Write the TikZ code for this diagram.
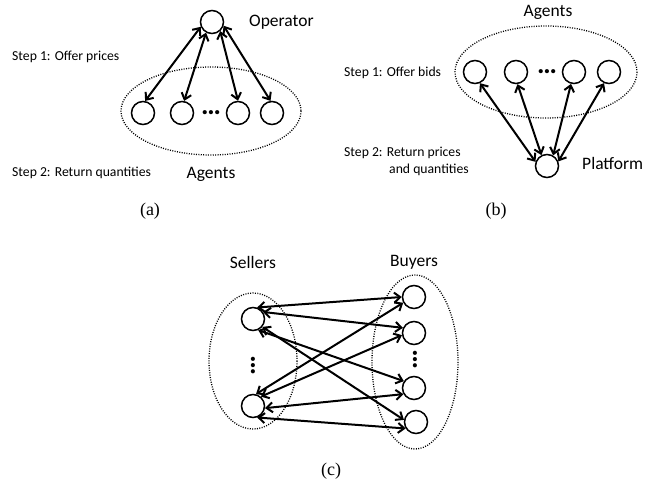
\documentclass[tikz,border=0pt]{standalone}
\usepackage{fontspec}
\setmainfont{Liberation Serif}
\newfontfamily\calib{Carlito}
\usetikzlibrary{arrows.meta}
\begin{document}
\begin{tikzpicture}[x=1pt,y=-1pt,
  agent/.style={circle,draw,line width=1.5pt,minimum size=23pt,inner sep=0pt},
  arr/.style={line width=2pt,{Straight Barb[length=6pt,width=10pt]}-{Straight Barb[length=6pt,width=10pt]}},
  group/.style={line width=1.3pt,dash pattern=on 1pt off 1.4pt},
  big/.style={font=\calib\fontsize{17.5}{20}\selectfont,inner sep=0pt},
  small/.style={font=\calib\fontsize{13.7}{16}\selectfont,inner sep=0pt},
  dots/.style={font=\calib\bfseries\fontsize{28}{30}\selectfont,inner sep=0pt},
  captext/.style={font=\fontsize{18}{20}\selectfont,inner sep=0pt}]
\useasboundingbox (0,0) rectangle (663,489);

% ---------- (a) ----------
\draw[group] (211,111) ellipse [x radius=90, y radius=44];
\node[agent] (op) at (212,22) {};
\node[agent] (a1) at (143,113) {};
\node[agent] (a2) at (182,113) {};
\node[agent] (a3) at (238,113) {};
\node[agent] (a4) at (272,113) {};
\node[dots] (ad) at (211,113) {…};
\draw[arr] (op.203) -- (a1.80);
\draw[arr] (op.241) -- (a2.80);
\draw[arr] (op.312) -- (a3.90);
\draw[arr] (op.342) -- (a4.97);
\node[big,anchor=west] (opl) at (249,22) {Operator};
\node[big] (agl) at (211,174) {Agents};
\node[small,anchor=west] (s1a) at (12,57) {Step 1: Offer prices};
\node[small,anchor=west] (s2a) at (12,173) {Step 2: Return quantities};
\node[captext] (capa) at (150,211) {(a)};

% ---------- (b) ----------
\draw[group] (546,72) ellipse [x radius=91, y radius=46];
\node[agent] (b1) at (475,72) {};
\node[agent] (b2) at (516,72) {};
\node[agent] (b3) at (574,72) {};
\node[agent] (b4) at (609,72) {};
\node[dots] (bd) at (547,72) {…};
\node[agent] (pf) at (547,166) {};
\draw[arr] (pf.160) -- (b1.294);
\draw[arr] (pf.117) -- (b2.277);
\draw[arr] (pf.60) -- (b3.256);
\draw[arr] (pf.22) -- (b4.246);
\node[big] (agb) at (548,12) {Agents};
\node[big,anchor=west] (pfl) at (582,163) {Platform};
\node[small,anchor=west] (s1b) at (344,73) {Step 1: Offer bids};
\node[small,anchor=west] (s2b) at (344,153) {Step 2: Return prices};
\node[small,anchor=west] (s2c) at (389,170) {and quantities};
\node[captext] (capb) at (496,211) {(b)};

% ---------- (c) ----------
\draw[group] (253,361) ellipse [x radius=44, y radius=68];
\draw[group] (415,362) ellipse [x radius=43, y radius=87];
\node[agent] (s1) at (253,319) {};
\node[agent] (s2) at (253,406) {};
\node[agent] (c1) at (414,297) {};
\node[agent] (c2) at (414,333) {};
\node[agent] (c3) at (414,388) {};
\node[agent] (c4) at (416,422) {};
\node[dots,rotate=90] (sd) at (253,366) {…};
\node[dots,rotate=90] (cd) at (415,360) {…};
\draw[arr] (s1.70) -- (c1.180);
\draw[arr] (s1.35) -- (c2.155);
\draw[arr] (s1.295) -- (c3.146);
\draw[arr] (s1.320) -- (c4.170);
\draw[arr] (s2.76) -- (c1.208);
\draw[arr] (s2.50) -- (c2.190);
\draw[arr] (s2.350) -- (c3.210);
\draw[arr] (s2.290) -- (c4.212);
\node[big] (sel) at (253,262) {Sellers};
\node[big] (buy) at (414,262) {Buyers};
\node[captext] (capc) at (331,471) {(c)};
\end{tikzpicture}
\end{document}
